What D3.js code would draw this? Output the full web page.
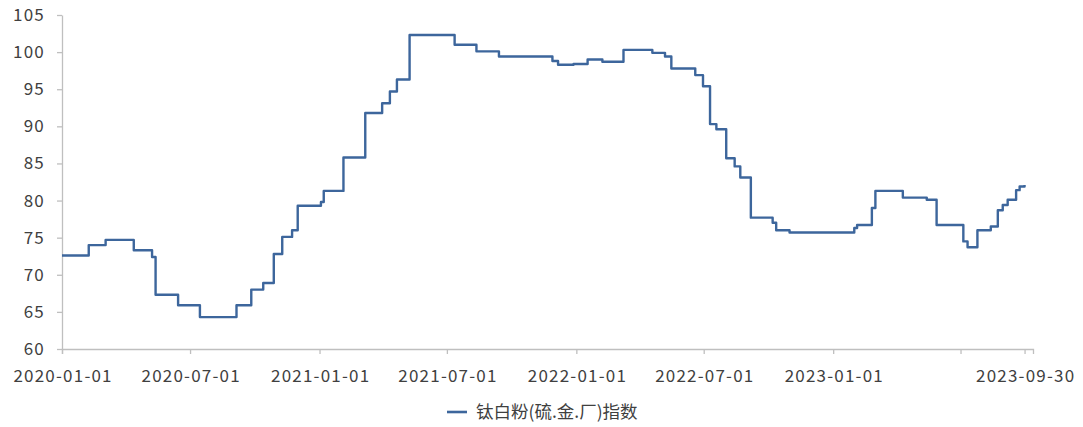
<!DOCTYPE html>
<html><head><meta charset="utf-8">
<script src="https://cdn.jsdelivr.net/npm/d3@7/dist/d3.min.js"></script>
<style>
body{margin:0;background:#fff;}
text{font-family:"Noto Sans CJK SC","Noto Sans",sans-serif;}
</style></head>
<body><svg id="c" width="1083" height="427"></svg>
<script>
const seriesName = "钛白粉(硫.金.厂)指数";
const dates = ["2020-01-01","2020-02-08","2020-03-03","2020-04-12","2020-05-08","2020-05-13","2020-06-14","2020-07-15","2020-09-05","2020-09-26","2020-10-13","2020-10-28","2020-11-09","2020-11-23","2020-12-01","2021-01-03","2021-01-07","2021-02-04","2021-03-07","2021-03-31","2021-04-11","2021-04-21","2021-05-09","2021-07-12","2021-08-12","2021-09-13","2021-11-28","2021-12-06","2021-12-28","2022-01-17","2022-02-07","2022-03-09","2022-04-19","2022-05-07","2022-05-16","2022-06-19","2022-06-30","2022-07-10","2022-07-19","2022-08-02","2022-08-14","2022-08-22","2022-09-06","2022-10-07","2022-10-12","2022-10-31","2023-01-31","2023-02-04","2023-02-25","2023-03-02","2023-04-10","2023-05-14","2023-05-28","2023-07-05","2023-07-11","2023-07-25","2023-08-13","2023-08-23","2023-08-30","2023-09-06","2023-09-18","2023-09-23","2023-09-30"];
const values = [72.6,74.0,74.7,73.3,72.4,67.3,65.9,64.3,65.9,68.0,68.9,72.8,75.1,76.0,79.3,79.8,81.3,85.8,91.8,93.1,94.7,96.3,102.3,101.0,100.1,99.4,98.8,98.3,98.4,99.0,98.7,100.3,99.9,99.4,97.8,96.9,95.4,90.3,89.6,85.7,84.6,83.1,77.7,77.0,76.0,75.7,76.3,76.7,79.0,81.3,80.4,80.1,76.7,74.5,73.7,76.0,76.5,78.7,79.4,80.1,81.4,81.9,82.1];
const xTickDates = ["2020-01-01","2020-07-01","2021-01-01","2021-07-01","2022-01-01","2022-07-01","2023-01-01","2023-07-01","2023-09-30"];
const xTickLabels = ["2020-01-01","2020-07-01","2021-01-01","2021-07-01","2022-01-01","2022-07-01","2023-01-01","","2023-09-30"];
const yTicks = [60,65,70,75,80,85,90,95,100,105];

const parse = d3.utcParse("%Y-%m-%d");
const data = dates.map((d,i)=>({date:parse(d), value:values[i]}));
const svg = d3.select("#c");
const mLeft = 62, mRight = 1033, mTop = 15, mBottom = 349;

const x = d3.scaleUtc().domain([parse("2020-01-01"), parse("2023-10-12")]).range([mLeft, mRight]);
const y = d3.scaleLinear().domain([60,105]).range([mBottom, mTop]);

const axisColor = "#bfbfbf", textColor = "#404040";

const xAxis = svg.append("g").attr("transform",`translate(0,${mBottom})`)
  .call(d3.axisBottom(x).tickValues(xTickDates.map(parse)).tickSize(5).tickPadding(16)
    .tickFormat((d,i)=>xTickLabels[i]));
xAxis.select(".domain").attr("stroke",axisColor).attr("stroke-width",1.3);
xAxis.selectAll(".tick line").attr("stroke",axisColor).attr("stroke-width",1.3);
xAxis.selectAll(".tick text").attr("fill",textColor).style("font-size","17px")
  .style("letter-spacing","1.2px").attr("dx","0.6px").attr("font-family","'Noto Sans CJK SC', sans-serif");

const yAxis = svg.append("g").attr("transform",`translate(${mLeft},0)`)
  .call(d3.axisLeft(y).tickValues(yTicks).tickSize(5).tickPadding(12).tickSizeOuter(0));
yAxis.select(".domain").attr("stroke",axisColor).attr("stroke-width",1.3);
yAxis.selectAll(".tick line").attr("stroke",axisColor).attr("stroke-width",1.3);
yAxis.selectAll(".tick text").attr("fill",textColor).style("font-size","17px").style("letter-spacing","1.2px");

const line = d3.line().x(d=>x(d.date)).y(d=>y(d.value)).curve(d3.curveStepAfter);
svg.append("path").datum(data).attr("d",line).attr("fill","none")
  .attr("stroke","#3d669c").attr("stroke-width",2.4).attr("stroke-linejoin","round");

const lg = svg.append("g").attr("transform","translate(447,412)");
lg.append("line").attr("x1",0).attr("x2",20).attr("y1",0).attr("y2",0).attr("stroke","#3d669c").attr("stroke-width",2.6);
lg.append("text").attr("x",29).attr("y",0).attr("dy","0.35em").attr("fill",textColor).style("font-size","17.5px").text(seriesName);
</script></body></html>
